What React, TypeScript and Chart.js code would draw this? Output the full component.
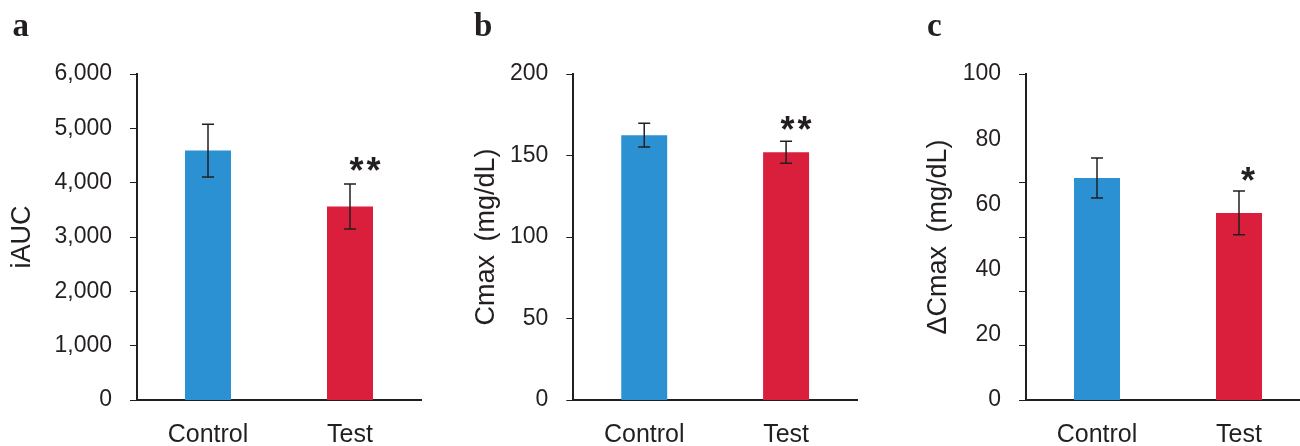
import React, { useEffect, useRef } from 'react';
import { Chart, registerables } from 'chart.js';

Chart.register(...registerables);

// ---------- data ----------
const categories = ['Control', 'Test'];

const iaucMeans = [4590, 3560];
const iaucErrors = [485, 415];
const iaucSignif = ['', '**'];
const iaucTicks = [0, 1000, 2000, 3000, 4000, 5000, 6000];

const cmaxMeans = [162.5, 152];
const cmaxErrors = [7.3, 6.8];
const cmaxSignif = ['', '**'];
const cmaxTicks = [0, 50, 100, 150, 200];

const dcmaxMeans = [68.1, 57.4];
const dcmaxErrors = [6.1, 6.7];
const dcmaxSignif = ['', '*'];
const dcmaxTicks = [0, 20, 40, 60, 80, 100];
const dcmaxTickMarks = [0, 100 / 6, 200 / 6, 50, 400 / 6, 100];

const barColors = ['#2b91d2', '#d91f3c'];
const INK = '#231f20';
const FONT = '"Liberation Sans", Arial, Helvetica, sans-serif';

type PanelSpec = {
  letter: string;
  letterLeft: number;
  left: number;
  width: number;
  axisX: number;
  rightX: number;
  title: string;
  titlePad: number;
  max: number;
  means: number[];
  errors: number[];
  signif: string[];
  ticks: number[];
  marks: number[];
  starDx: number;
  starGap: number;
};

const panels: PanelSpec[] = [
  {
    letter: 'a', letterLeft: 12.5, left: 0, width: 440, axisX: 137, rightX: 421,
    title: 'iAUC', titlePad: 6, max: 6000,
    means: iaucMeans, errors: iaucErrors, signif: iaucSignif,
    ticks: iaucTicks, marks: iaucTicks, starDx: 15, starGap: 21,
  },
  {
    letter: 'b', letterLeft: 474, left: 440, width: 440, axisX: 573.3, rightX: 857,
    title: 'Cmax\u2002(mg/dL)', titlePad: 30, max: 200,
    means: cmaxMeans, errors: cmaxErrors, signif: cmaxSignif,
    ticks: cmaxTicks, marks: cmaxTicks, starDx: 10, starGap: 19,
  },
  {
    letter: 'c', letterLeft: 927, left: 880, width: 430, axisX: 1026, rightX: 1310,
    title: '\u0394Cmax\u2002(mg/dL)', titlePad: 42, max: 100,
    means: dcmaxMeans, errors: dcmaxErrors, signif: dcmaxSignif,
    ticks: dcmaxTicks, marks: dcmaxTickMarks, starDx: 9, starGap: 18,
  },
];

function makeErrorBarPlugin(p: PanelSpec) {
  return {
    id: 'errorBars',
    afterDatasetsDraw(chart: any) {
      const { ctx } = chart;
      const y = chart.scales.y;
      const meta = chart.getDatasetMeta(0);
      meta.data.forEach((bar: any, i: number) => {
        const m = p.means[i];
        const e = p.errors[i];
        const top = y.getPixelForValue(m + e);
        const bot = y.getPixelForValue(m - e);
        ctx.save();
        ctx.strokeStyle = INK;
        ctx.lineWidth = 1.5;
        ctx.beginPath();
        ctx.moveTo(bar.x, top);
        ctx.lineTo(bar.x, bot);
        ctx.moveTo(bar.x - 6, top);
        ctx.lineTo(bar.x + 6, top);
        ctx.moveTo(bar.x - 6, bot);
        ctx.lineTo(bar.x + 6, bot);
        ctx.stroke();
        const s = p.signif[i];
        if (s) {
          ctx.fillStyle = INK;
          ctx.font = `bold 36px ${FONT}`;
          ctx.textAlign = 'center';
          ctx.textBaseline = 'alphabetic';
          const chars = s.split('');
          const cx = bar.x + p.starDx;
          const cy = top - p.starGap;
          chars.forEach((c, k) => {
            const x = cx + (k - (chars.length - 1) / 2) * 17;
            ctx.fillText(c, x, cy + 20);
          });
        }
        ctx.restore();
      });
    },
  };
}

function Panel({ p }: { p: PanelSpec }) {
  const ref = useRef<HTMLCanvasElement | null>(null);
  useEffect(() => {
    if (!ref.current) return;
    const chart = new Chart(ref.current, {
      type: 'bar',
      data: {
        labels: categories,
        datasets: [
          {
            data: p.means,
            backgroundColor: barColors,
            borderWidth: 0,
            barPercentage: 0.324,
            categoryPercentage: 1,
          },
        ],
      },
      options: {
        responsive: false,
        animation: false,
        layout: { padding: { left: 0, right: p.width - (p.rightX - p.left), top: 74, bottom: 0 } },
        font: { family: FONT },
        plugins: { legend: { display: false }, tooltip: { enabled: false } },
        scales: {
          x: {
            grid: { display: false, drawTicks: false },
            border: { display: true, width: 2, color: INK },
            ticks: { font: { size: 25, family: FONT }, color: INK, padding: 20 },
            afterFit: (s: any) => { s.height = 46; },
          },
          y: {
            position: 'left',
            weight: 1,
            min: 0,
            max: p.max,
            grid: { display: false, drawTicks: false },
            border: { display: false },
            ticks: { font: { size: 23, family: FONT }, color: INK, padding: 18 },
            afterBuildTicks: (s: any) => { s.ticks = p.ticks.map((v) => ({ value: v })); },
            title: {
              display: true,
              text: p.title,
              font: { size: 27, family: FONT },
              color: INK,
              padding: { top: p.titlePad, bottom: 0 },
            },
            afterFit: (s: any) => { s.width = p.axisX - p.left - 7; },
          },
          yt: {
            position: 'left',
            weight: 0,
            min: 0,
            max: p.max,
            grid: { display: true, drawOnChartArea: false, drawTicks: true, tickLength: 7, lineWidth: 1, color: INK },
            border: { display: true, width: 2, color: INK },
            ticks: { display: false },
            afterBuildTicks: (s: any) => { s.ticks = p.marks.map((v) => ({ value: v })); },
            afterFit: (s: any) => { s.width = 7; },
          },
        },
      } as any,
      plugins: [makeErrorBarPlugin(p)],
    });
    return () => chart.destroy();
  }, [p]);
  return (
    <canvas
      ref={ref}
      width={p.width}
      height={446}
      style={{ position: 'absolute', left: p.left, top: 0, width: p.width, height: 446 }}
    />
  );
}

export default function App() {
  return (
    <div
      style={{
        position: 'absolute', left: 0, top: 0, width: 1300, height: 446,
        overflow: 'hidden', background: '#ffffff',
      }}
    >
      {panels.map((p) => (
        <Panel key={p.letter} p={p} />
      ))}
      {panels.map((p) => (
        <div
          key={'l' + p.letter}
          style={{
            position: 'absolute', left: p.letterLeft, top: 9.4,
            fontFamily: '"Liberation Serif", "Times New Roman", serif',
            fontWeight: 700, fontSize: 33, lineHeight: '33px', color: INK,
          }}
        >
          {p.letter}
        </div>
      ))}
    </div>
  );
}
